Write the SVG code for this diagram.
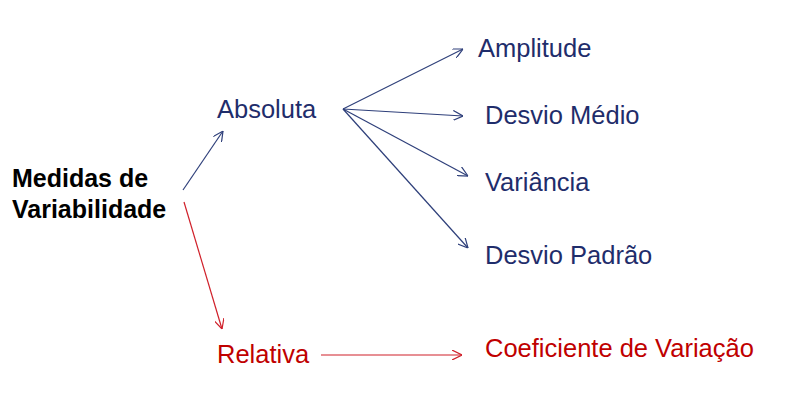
<svg xmlns="http://www.w3.org/2000/svg" width="789" height="404" viewBox="0 0 789 404">
<style>
text{font-family:"Liberation Sans",Arial,sans-serif;font-size:25.5px}
.b{fill:#1f2d6b}
.r{fill:#c00000}
.k{fill:#000;font-weight:bold;font-size:25px}
.lb{stroke:#2e3f7a;stroke-width:1.2;fill:none}
.lr{stroke:#d0202a;stroke-width:1.2;fill:none}
</style>
<defs>
<marker id="ab" viewBox="0 0 10 10" refX="10" refY="5" markerWidth="10" markerHeight="10" markerUnits="userSpaceOnUse" orient="auto"><path d="M0,0 L10,5 L0,10" fill="none" stroke="#2e3f7a" stroke-width="1.2"/></marker>
<marker id="ar" viewBox="0 0 10 10" refX="10" refY="5" markerWidth="10" markerHeight="10" markerUnits="userSpaceOnUse" orient="auto"><path d="M0,0 L10,5 L0,10" fill="none" stroke="#d0202a" stroke-width="1.2"/></marker>
</defs>
<g id="connectors">
<line class="lb" x1="183" y1="190" x2="223" y2="131" marker-end="url(#ab)"/>
<line class="lr" x1="184" y1="202" x2="222" y2="329" marker-end="url(#ar)"/>
<line class="lb" x1="343" y1="109" x2="463" y2="49" marker-end="url(#ab)"/>
<line class="lb" x1="343" y1="109" x2="463" y2="116" marker-end="url(#ab)"/>
<line class="lb" x1="343" y1="109" x2="468" y2="176" marker-end="url(#ab)"/>
<line class="lb" x1="343" y1="109" x2="468" y2="248" marker-end="url(#ab)"/>
<line class="lr" x1="321" y1="355" x2="462" y2="355" marker-end="url(#ar)"/>
</g>
<g id="medidas"><text class="k" x="12" y="187">Medidas de</text><text class="k" x="12" y="218">Variabilidade</text></g>
<g id="absoluta"><text class="b" x="217" y="118">Absoluta</text></g>
<g id="relativa"><text class="r" x="217" y="363">Relativa</text></g>
<g id="amplitude"><text class="b" x="478" y="57">Amplitude</text></g>
<g id="desvio-medio"><text class="b" x="485" y="124">Desvio Médio</text></g>
<g id="variancia"><text class="b" x="485" y="191">Variância</text></g>
<g id="desvio-padrao"><text class="b" x="485" y="264">Desvio Padrão</text></g>
<g id="coeficiente"><text class="r" x="485" y="357">Coeficiente de Variação</text></g>
</svg>
